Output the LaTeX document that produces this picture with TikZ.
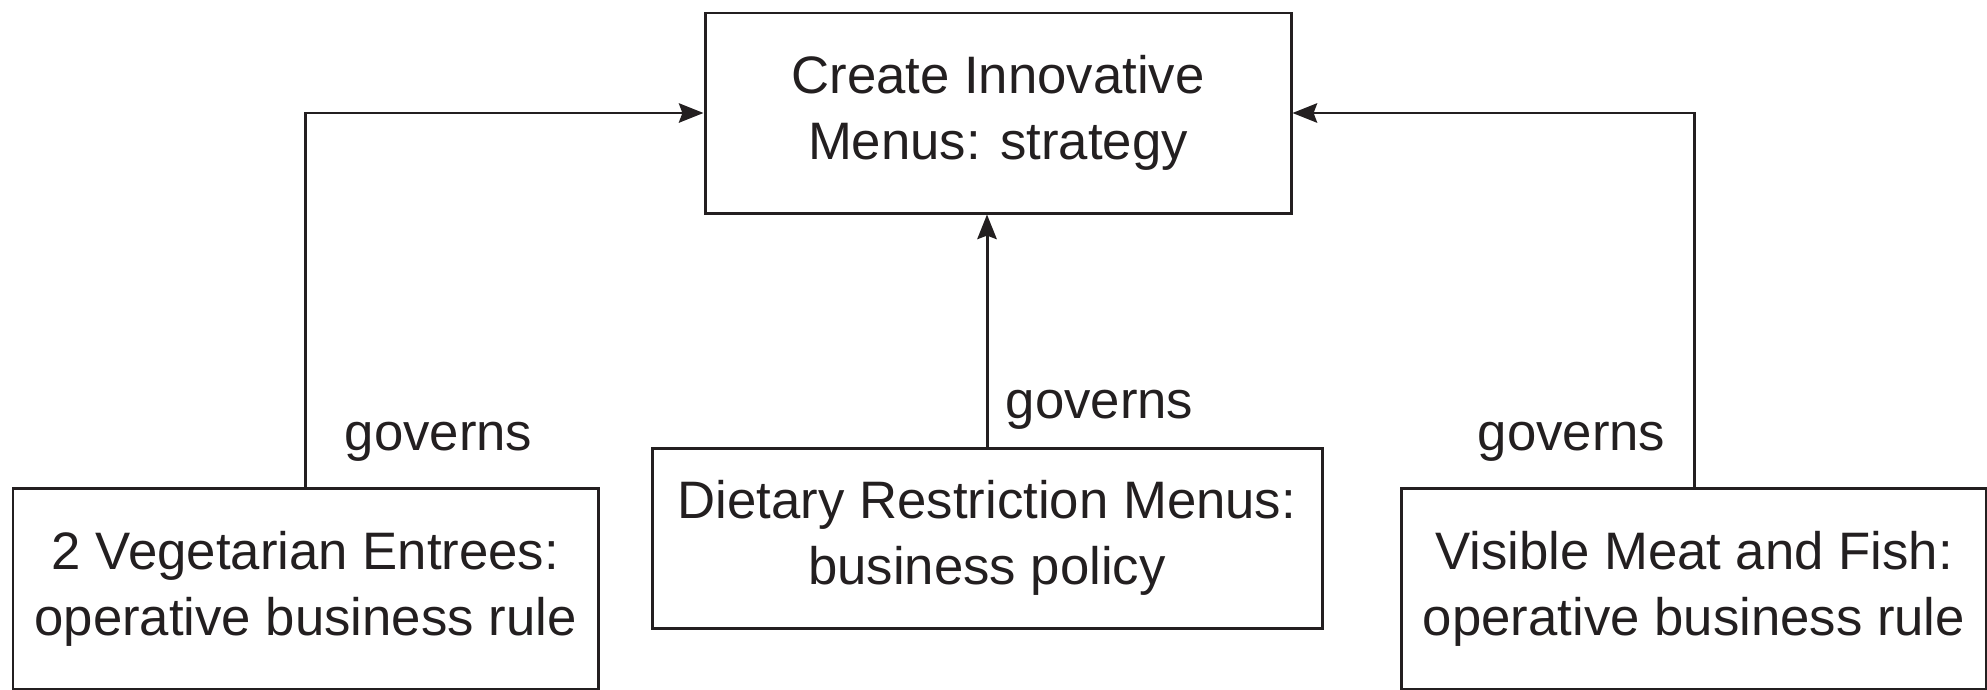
\documentclass[tikz,border=0pt]{standalone}
\usepackage{fontspec}
\setmainfont{Liberation Sans}
\usepackage{tikz}
\usetikzlibrary{arrows.meta,positioning}
\definecolor{ink}{RGB}{35,31,32}

\begin{document}
\begin{tikzpicture}[
			box/.style={draw=ink, line width=0.85pt, text=ink, align=center, inner sep=0pt, font=\fontsize{15}{18.8}\selectfont},
			arrow/.style={-{Stealth[length=7pt,width=5.5pt,inset=1pt]}, draw=ink, line width=0.85pt},
			govlabel/.style={text=ink, inner sep=0pt, font=\fontsize{15}{18}\selectfont}
		]
		\useasboundingbox (0,0) rectangle (19.87,6.89);

		\node[box, minimum width=5.86cm, minimum height=2.0cm] (strategy) at (9.98,5.76) {Create Innovative\\Menus: strategy};
		\node[box, minimum width=5.85cm, minimum height=2.01cm] (vegrule) at (3.055,1.005) {2 Vegetarian Entrees:\\operative business rule};
		\node[box, minimum width=6.70cm, minimum height=1.80cm] (policy) at (9.87,1.51) {Dietary Restriction Menus:\\business policy};
		\node[box, minimum width=5.85cm, minimum height=2.01cm] (meatrule) at (16.94,1.005) {Visible Meat and Fish:\\operative business rule};

		\draw[arrow] (vegrule.north) |- (strategy.west);
		\draw[arrow] (policy.north) -- (policy.north |- strategy.south);
		\draw[arrow] (meatrule.north) |- (strategy.east);

		\node[govlabel, anchor=base west] (govleft) at (3.44,2.39) {governs};
		\node[govlabel, anchor=base west] (govmid) at (10.05,2.71) {governs};
		\node[govlabel, anchor=base east] (govright) at (16.66,2.39) {governs};

	\end{tikzpicture}
\end{document}
